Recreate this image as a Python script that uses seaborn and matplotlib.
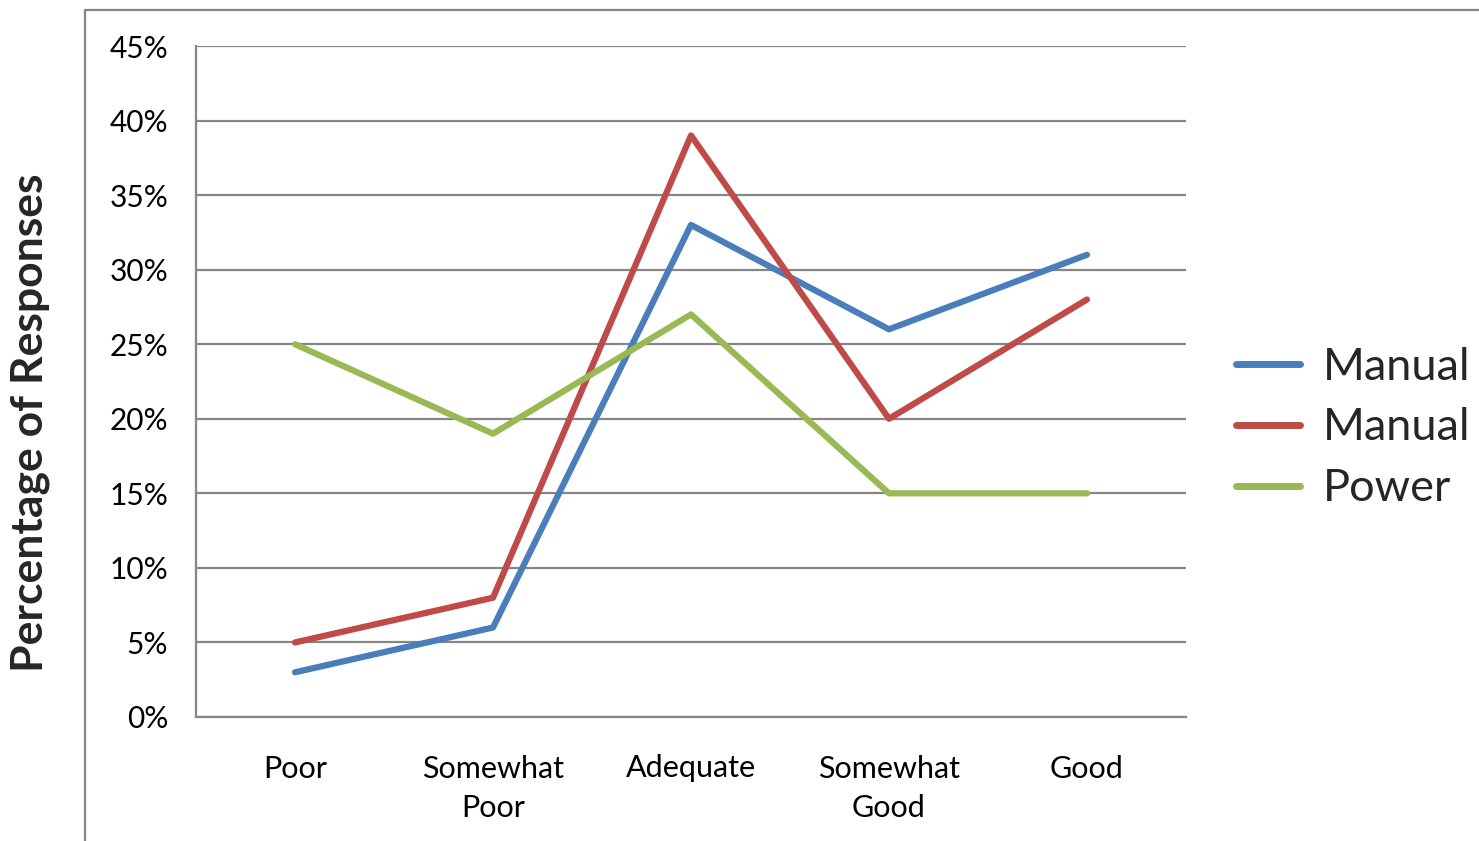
import matplotlib
matplotlib.use("Agg")
import matplotlib.pyplot as plt
from matplotlib.lines import Line2D
from matplotlib.ticker import FixedLocator, PercentFormatter
import pandas as pd
import seaborn as sns

# Survey ratings (percentage of responses per category)
categories = ["Poor", "Somewhat\nPoor", "Adequate", "Somewhat\nGood", "Good"]
manual_1 = [3, 6, 33, 26, 31]
manual_2 = [5, 8, 39, 20, 28]
power = [25, 19, 27, 15, 15]

series_keys = ["manual_1", "manual_2", "power"]
legend_labels = ["Manual", "Manual", "Power"]
colors = ["#4A7EBB", "#BE4B48", "#98B954"]

df = pd.DataFrame({
    "category": categories * 3,
    "pos": list(range(len(categories))) * 3,
    "value": manual_1 + manual_2 + power,
    "series": sum([[k] * len(categories) for k in series_keys], []),
})

sns.set_theme(style="white")
plt.rcParams["font.family"] = ["Lato", "DejaVu Sans"]

W, H = 1479, 841
fig = plt.figure(figsize=(W / 100, H / 100), dpi=100)
ax = fig.add_axes([196 / W, 1 - 717 / H, (1186 - 196) / W, (717 - 46) / H])

grid_c = "#868686"

sns.lineplot(data=df, x="pos", y="value", hue="series", hue_order=series_keys,
             palette=colors, sort=False, linewidth=4.5, ax=ax, legend=False,
             solid_capstyle="round", solid_joinstyle="round")

ax.set_xlim(-0.5, len(categories) - 0.5)
ax.set_ylim(0, 45)
ax.yaxis.set_major_locator(FixedLocator(range(0, 50, 5)))
ax.yaxis.set_major_formatter(PercentFormatter(decimals=0))
ax.grid(axis="y", color=grid_c, linewidth=1.6)
ax.set_axisbelow(True)

ax.set_xticks(range(len(categories)))
ax.set_xticklabels(categories, fontsize=22, linespacing=1.5)
ax.set_xticks([i - 0.5 for i in range(len(categories) + 1)], minor=True)
ax.tick_params(axis="x", which="major", length=0, pad=27)
ax.tick_params(axis="x", which="minor", length=7, width=1.6, direction="out")
ax.tick_params(axis="y", which="major", length=9, width=1.6,
               direction="out", labelsize=21.5, pad=11)
ax.tick_params(axis="both", which="both", color=grid_c, labelcolor="black")

for side in ["top", "right"]:
    ax.spines[side].set_visible(False)
for side in ["left", "bottom"]:
    ax.spines[side].set_color(grid_c)
    ax.spines[side].set_linewidth(1.6)

ax.set_xlabel("")
ax.set_ylabel("Percentage of Responses", fontsize=32, fontweight="bold")
ax.yaxis.set_label_coords((50 - 196) / (1186 - 196), (717 - 423) / (717 - 46))

handles = [Line2D([], [], color=c, linewidth=5, solid_capstyle="round") for c in colors]
fig.legend(handles, legend_labels, loc="center left",
           bbox_to_anchor=(1236 / W, 1 - 428 / H), frameon=False,
           fontsize=32.5, handlelength=1.42, handletextpad=0.5, labelspacing=0.44,
           borderpad=0, borderaxespad=0)

# Outer chart frame
fy = 1 - 10 / H
fx = 85 / W
fig.add_artist(Line2D([fx, fx], [0, fy], transform=fig.transFigure, color=grid_c, linewidth=1.6))
fig.add_artist(Line2D([fx, 1], [fy, fy], transform=fig.transFigure, color=grid_c, linewidth=1.6))

fig.savefig("out.png", dpi=100)
